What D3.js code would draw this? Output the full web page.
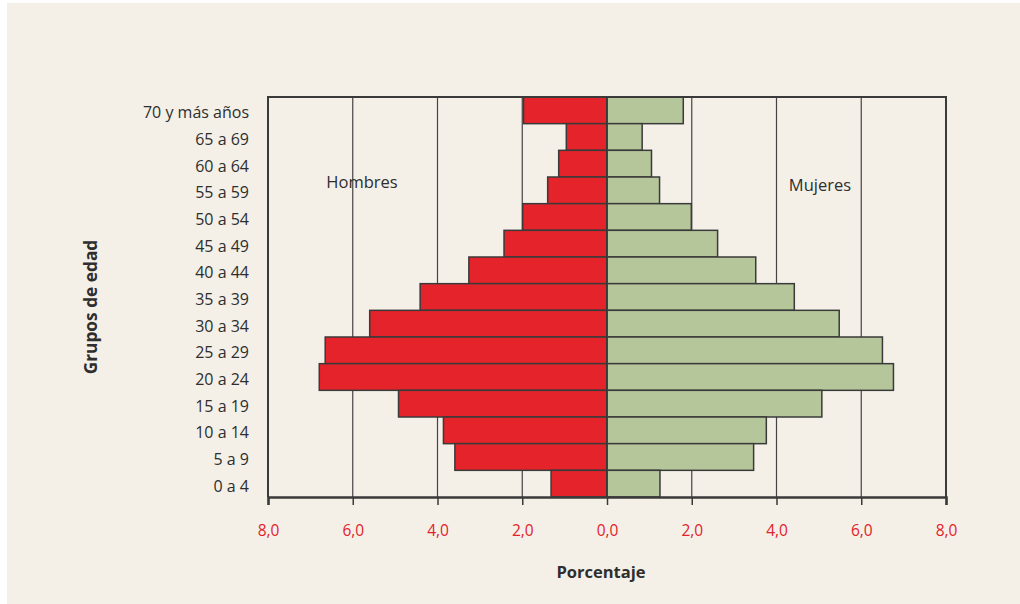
<!DOCTYPE html>
<html><head><meta charset="utf-8">
<script src="https://cdn.jsdelivr.net/npm/d3@7"></script>
<style>body{margin:0;background:#fff}svg{display:block}</style>
</head><body>
<svg id="c" width="1020" height="604"></svg>
<script>
const ageGroups = ["70 y más años","65 a 69","60 a 64","55 a 59","50 a 54","45 a 49","40 a 44","35 a 39","30 a 34","25 a 29","20 a 24","15 a 19","10 a 14","5 a 9","0 a 4"];
const hombres = [1.97,0.96,1.14,1.40,1.99,2.43,3.26,4.41,5.60,6.65,6.79,4.92,3.86,3.59,1.32];
const mujeres = [1.80,0.83,1.05,1.24,1.99,2.61,3.51,4.42,5.48,6.50,6.76,5.07,3.76,3.46,1.25];
const tickValues = [-8,-6,-4,-2,0,2,4,6,8];
const tickLabels = ["8,0","6,0","4,0","2,0","0,0","2,0","4,0","6,0","8,0"];

const svg = d3.select("#c");
const font = "'Open Sans', sans-serif";
const ink = "#2e2e2e";
svg.append("rect").attr("x",7).attr("y",3).attr("width",1013).attr("height",601).attr("fill","#f4f0e8");

const L=268, R=946, T=97, B=497;
const x = d3.scaleLinear().domain([-8,8]).range([L,R]);
const y = d3.scaleBand().domain(ageGroups).range([T,B]).padding(0);

// gridlines
svg.append("g").selectAll("line").data(tickValues).join("line")
  .attr("x1",d=>x(d)).attr("x2",d=>x(d)).attr("y1",T).attr("y2",B)
  .attr("stroke","#444").attr("stroke-width",1.2);

// bars
svg.append("g").selectAll("rect").data(ageGroups).join("rect")
  .attr("x",(d,i)=>x(-hombres[i])).attr("y",d=>y(d))
  .attr("width",(d,i)=>x(0)-x(-hombres[i])).attr("height",y.bandwidth())
  .attr("fill","#e5232a").attr("stroke","#3a3a3a").attr("stroke-width",1.5);
svg.append("g").selectAll("rect").data(ageGroups).join("rect")
  .attr("x",x(0)).attr("y",d=>y(d))
  .attr("width",(d,i)=>x(mujeres[i])-x(0)).attr("height",y.bandwidth())
  .attr("fill","#b5c79a").attr("stroke","#3a3a3a").attr("stroke-width",1.5);

// frame
svg.append("path").attr("d",`M${L},${B}V${T}H${R}V${B}`).attr("fill","none").attr("stroke","#3a3a3a").attr("stroke-width",2);
svg.append("line").attr("x1",x(0)).attr("x2",x(0)).attr("y1",T).attr("y2",B).attr("stroke","#3a3a3a").attr("stroke-width",1.5);

// x axis
const xAxis = d3.axisBottom(x).tickValues(tickValues).tickSize(8).tickPadding(20)
  .tickFormat((d,i)=>tickLabels[i]);
const gx = svg.append("g").attr("transform",`translate(0,${B})`).call(xAxis);
gx.select(".domain").attr("stroke","#3a3a3a").attr("stroke-width",2.5);
gx.selectAll(".tick line").attr("stroke","#3a3a3a").attr("stroke-width",1.5);
gx.selectAll(".tick text").attr("fill","#e2222a").attr("font-family",font).attr("font-size",15.5);

// y labels
const yAxis = d3.axisLeft(y).tickSize(0).tickPadding(19);
const gy = svg.append("g").attr("transform",`translate(${L},0)`).call(yAxis);
gy.select(".domain").remove();
gy.selectAll(".tick text").attr("fill",ink).attr("font-family",font).attr("font-size",16).attr("dy","0.5em");

svg.append("text").attr("x",x(0)-6).attr("y",578).attr("text-anchor","middle")
  .attr("font-family",font).attr("font-weight","bold").attr("font-size",16.5).attr("fill",ink).text("Porcentaje");
svg.append("text").attr("transform","translate(97,307) rotate(-90)").attr("text-anchor","middle")
  .attr("font-family",font).attr("font-weight","bold").attr("font-size",17.3).attr("fill",ink).text("Grupos de edad");
svg.append("text").attr("x",362).attr("y",188).attr("text-anchor","middle")
  .attr("font-family",font).attr("font-size",16.5).attr("fill",ink).text("Hombres");
svg.append("text").attr("x",820).attr("y",191).attr("text-anchor","middle")
  .attr("font-family",font).attr("font-size",16.5).attr("fill",ink).text("Mujeres");
</script>
</body></html>
